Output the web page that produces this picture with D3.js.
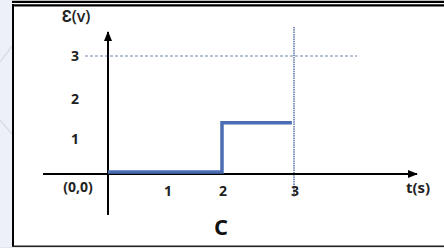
<!DOCTYPE html>
<html>
<head>
<meta charset="utf-8">
<script src="https://cdn.jsdelivr.net/npm/d3@7"></script>
<style>
  html, body { margin: 0; padding: 0; background: #fff; }
  svg { display: block; font-family: "Open Sans", sans-serif; }
</style>
</head>
<body>
<svg id="chart" width="444" height="248"></svg>
<script>
"use strict";
// step signal
const times = [0, 2, 2, 2.97];
const emf = [0, 0, 1.3, 1.3];
const xTicks = [1, 2, 3];
const yTicks = [1, 2, 3];
const xLabel = 't(s)';
const yLabel = 'Ɛ(v)';
const originLabel = '(0,0)';
const caption = 'C';

function drawChart() {
    const svg = d3.select('#chart');
    svg.selectAll('*').remove();
    const width = +svg.attr('width');
    const height = +svg.attr('height');

    // the drawing is hand spaced, so the time axis is piecewise
    const x = d3.scaleLinear().domain([0, 1, 2, 3]).range([108, 167, 222, 294]);
    const y = d3.scaleLinear().domain([0, 3]).range([174, 56]);

    // page background + frame
    svg.append('rect').attr('width', width).attr('height', height).attr('fill', '#fff');
    svg.append('rect').attr('x', 0).attr('y', 0).attr('width', 12).attr('height', height).attr('fill', '#eef0f9');
    svg.append('rect').attr('x', 0).attr('y', 247).attr('width', width).attr('height', 1).attr('fill', '#e6e6ea');
    svg.append('line').attr('x1', 0).attr('y1', 62).attr('x2', 12).attr('y2', 46)
        .attr('stroke', '#dcdce6').attr('stroke-width', 1.5);
    svg.append('line').attr('x1', 0).attr('y1', 120).attr('x2', 12).attr('y2', 134)
        .attr('stroke', '#dcdce6').attr('stroke-width', 1.5);
    svg.append('line').attr('x1', 12).attr('y1', 1.8).attr('x2', width).attr('y2', 1.8)
        .attr('stroke', '#000').attr('stroke-width', 2.2);
    svg.append('line').attr('x1', 12).attr('y1', 5.3).attr('x2', width).attr('y2', 5.3)
        .attr('stroke', '#000').attr('stroke-width', 2.2);
    svg.append('line').attr('x1', 13).attr('y1', 4).attr('x2', 13).attr('y2', 247)
        .attr('stroke', '#000').attr('stroke-width', 2);
    svg.append('line').attr('x1', 12).attr('y1', 246.2).attr('x2', width).attr('y2', 246.2)
        .attr('stroke', '#222').attr('stroke-width', 1.5);

    const defs = svg.append('defs');
    defs.append('marker')
        .attr('id', 'arrow')
        .attr('viewBox', '0 0 10 10')
        .attr('refX', 9).attr('refY', 5)
        .attr('markerWidth', 5).attr('markerHeight', 5)
        .attr('orient', 'auto')
        .append('path').attr('d', 'M0,1 L10,5 L0,9 z').attr('fill', '#000');

    // guide lines at 3
    svg.append('line')
        .attr('x1', 85).attr('x2', 357)
        .attr('y1', y(3)).attr('y2', y(3))
        .attr('stroke', '#6f86a8').attr('stroke-width', 1)
        .attr('stroke-dasharray', '3,2');
    svg.append('line')
        .attr('x1', x(3)).attr('x2', x(3))
        .attr('y1', 27).attr('y2', 197)
        .attr('stroke', '#4d6c9e').attr('stroke-width', 1.4)
        .attr('stroke-dasharray', '1.5,0.8');

    // axes
    svg.append('line')
        .attr('x1', 43).attr('x2', 417)
        .attr('y1', y(0)).attr('y2', y(0))
        .attr('stroke', '#000').attr('stroke-width', 2)
        .attr('marker-end', 'url(#arrow)');
    svg.append('line')
        .attr('x1', x(0)).attr('x2', x(0))
        .attr('y1', 215).attr('y2', 32)
        .attr('stroke', '#000').attr('stroke-width', 2)
        .attr('marker-end', 'url(#arrow)');

    // signal
    const line = d3.line()
        .x((d, i) => x(times[i]))
        .y((d) => y(d) - (d === 0 ? 2 : 0));
    svg.append('path')
        .datum(emf)
        .attr('d', line)
        .attr('fill', 'none')
        .attr('stroke', '#4a6db3')
        .attr('stroke-width', 3.5)
        .attr('stroke-linejoin', 'miter');

    // tick labels
    svg.selectAll('text.xt')
        .data(xTicks)
        .enter()
        .append('text')
        .attr('class', 'xt')
        .attr('x', (d) => x(d) + 1)
        .attr('y', (d) => y(0) + 22)
        .attr('text-anchor', 'middle')
        .attr('font-size', '14px')
        .attr('font-weight', 'bold')
        .attr('fill', '#222')
        .text((d) => d.toString());
    svg.selectAll('text.yt')
        .data(yTicks)
        .enter()
        .append('text')
        .attr('class', 'yt')
        .attr('x', 75)
        .attr('y', (d) => y(d) + (d === 3 ? 5 : 9))
        .attr('text-anchor', 'middle')
        .attr('font-size', '14px')
        .attr('font-weight', 'bold')
        .attr('fill', '#222')
        .text((d) => d.toString());

    svg.append('text')
        .attr('x', 78).attr('y', 192)
        .attr('text-anchor', 'middle')
        .attr('font-size', '14px').attr('font-weight', 'bold').attr('fill', '#222')
        .text(originLabel);
    svg.append('text')
        .attr('x', 418).attr('y', 193)
        .attr('text-anchor', 'middle')
        .attr('font-size', '15px').attr('font-weight', 'bold').attr('fill', '#222')
        .text(xLabel);
    svg.append('text')
        .attr('x', 76).attr('y', 22)
        .attr('text-anchor', 'middle')
        .attr('font-size', '16px').attr('font-weight', 600).attr('fill', '#222')
        .text(yLabel);
    svg.append('text')
        .attr('x', 221).attr('y', 235)
        .attr('text-anchor', 'middle')
        .attr('font-size', '22px').attr('font-weight', 'bold').attr('fill', '#111')
        .text(caption);
}
window.drawChart = drawChart;
drawChart();
</script>
</body>
</html>
